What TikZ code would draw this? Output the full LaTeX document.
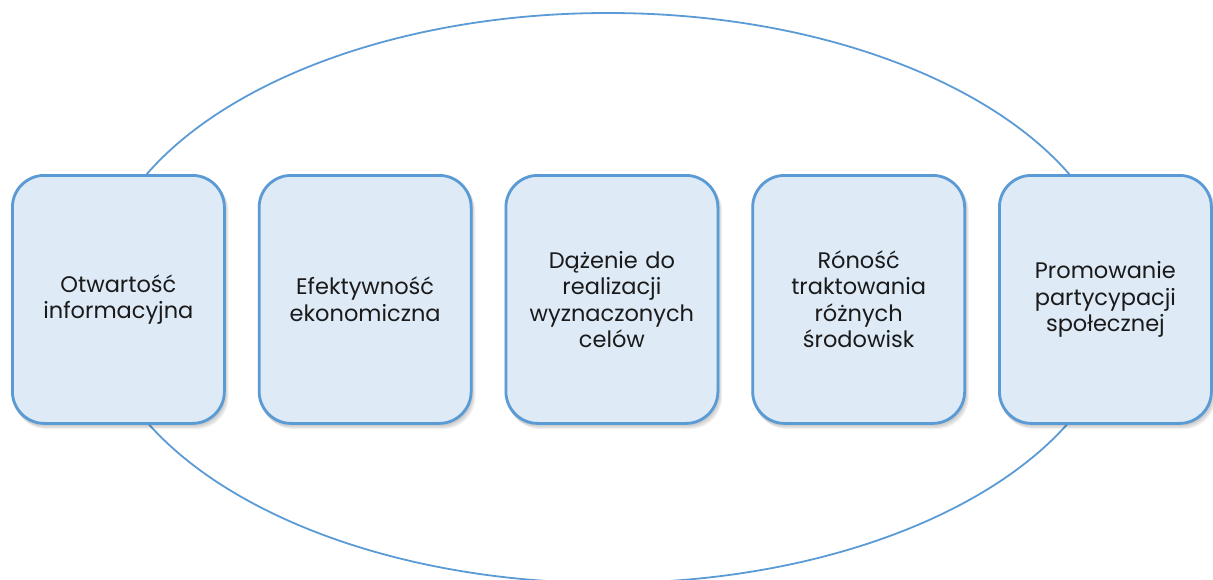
\documentclass[tikz,border=0pt]{standalone}
\usepackage{fontspec}
\setmainfont{Poppins}
\definecolor{bfill}{HTML}{DEEAF6}
\definecolor{bline}{HTML}{5B9BD5}
\definecolor{btext}{HTML}{1A1A1A}
\begin{document}
\begin{tikzpicture}[x=1pt,y=-1pt,
  pillar/.style={draw=bline,line width=2.8pt,fill=bfill,rounded corners=32pt,minimum width=212pt,minimum height=248pt,inner sep=0pt,anchor=north west,align=center,text width=205pt,text=btext,font=\fontsize{22.5}{26.5}\selectfont},
  shade/.style={fill=black,opacity=0.06,rounded corners=32pt,draw=none}]
\useasboundingbox (0,0) rectangle (1213,579);
\draw[bline,line width=1.8pt] (608,298) ellipse [x radius=512pt,y radius=285pt];
\foreach \i in {0,1,2,3,4}{
  \pgfmathsetmacro{\xx}{11+246.75*\i}
  \foreach \s in {1,2,3,4,5}{
    \fill[shade] (\xx+\s*0.9-1,174+\s*1.2-1) rectangle ++(212+2,248+2);
  }
}
\node[pillar] (b1) at (11,174) {Otwartość\\informacyjna};
\node[pillar] (b2) at (257.75,174) {Efektywność\\ekonomiczna};
\node[pillar] (b3) at (504.5,174) {Dążenie do\\realizacji\\wyznaczonych\\celów};
\node[pillar] (b4) at (751.25,174) {Róność\\traktowania\\różnych\\środowisk};
\node[pillar] (b5) at (998,174) {Promowanie\\partycypacji\\społecznej};
\end{tikzpicture}
\end{document}
